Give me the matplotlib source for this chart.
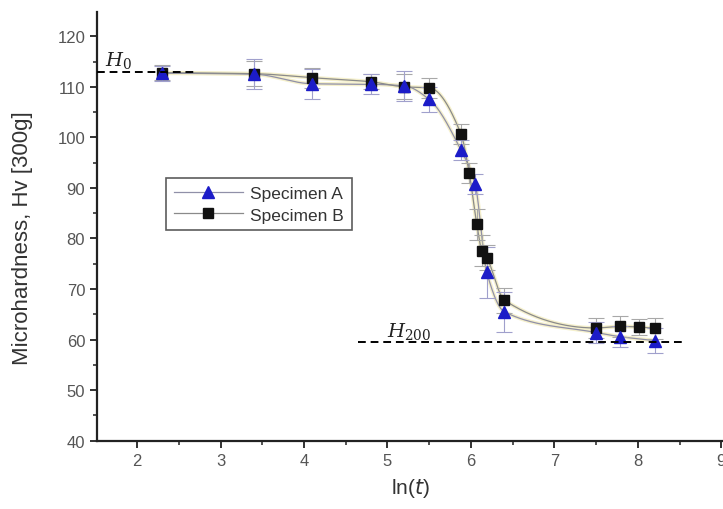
import numpy as np
import matplotlib
matplotlib.use("Agg")
import matplotlib.pyplot as plt
from matplotlib.ticker import MultipleLocator

plt.rcParams["font.family"] = ["Liberation Sans", "DejaVu Sans"]

# Specimen A
x_a = [2.3, 3.4, 4.1, 4.8, 5.2, 5.5, 5.88, 6.05, 6.19, 6.40, 7.50, 7.78, 8.20]
y_a = [112.7, 112.5, 110.6, 110.5, 110.2, 107.5, 97.5, 90.8, 73.3, 65.5, 61.4, 60.6, 59.8]
e_a = [1.5, 3.0, 3.0, 2.0, 3.0, 2.5, 2.0, 2.0, 5.0, 4.0, 2.0, 2.0, 2.5]

# Specimen B
x_b = [2.3, 3.4, 4.1, 4.8, 5.2, 5.5, 5.88, 5.98, 6.07, 6.13, 6.19, 6.40, 7.50, 7.78, 8.01, 8.20]
y_b = [112.8, 112.6, 111.8, 111.0, 110.0, 109.8, 100.7, 92.9, 82.8, 77.6, 76.2, 67.8, 62.3, 62.6, 62.5, 62.2]
e_b = [1.5, 2.5, 2.0, 1.5, 2.5, 2.0, 2.0, 2.0, 3.0, 3.0, 2.5, 2.5, 2.0, 2.0, 1.5, 2.0]

h0_level = 112.9
h200_level = 59.6


def smooth_connect(x, y, n=600):
    """Monotone cubic (PCHIP) connecting line through the measured points."""
    x = np.asarray(x, float)
    y = np.asarray(y, float)
    h = np.diff(x)
    d = np.diff(y) / h
    m = np.zeros_like(y)
    for k in range(1, len(x) - 1):
        if d[k - 1] * d[k] > 0:
            w1 = 2 * h[k] + h[k - 1]
            w2 = h[k] + 2 * h[k - 1]
            m[k] = (w1 + w2) / (w1 / d[k - 1] + w2 / d[k])
    m[0] = d[0]
    m[-1] = d[-1]
    xs = np.linspace(x[0], x[-1], n)
    idx = np.clip(np.searchsorted(x, xs) - 1, 0, len(x) - 2)
    t = (xs - x[idx]) / h[idx]
    h00 = 2 * t**3 - 3 * t**2 + 1
    h10 = t**3 - 2 * t**2 + t
    h01 = -2 * t**3 + 3 * t**2
    h11 = t**3 - t**2
    ys = (h00 * y[idx] + h10 * h[idx] * m[idx]
          + h01 * y[idx + 1] + h11 * h[idx] * m[idx + 1])
    return xs, ys


fig = plt.figure(figsize=(7.23, 5.10), dpi=100)
ax = fig.add_axes([0.1342, 0.1339, 0.8658, 0.8406])

xa_s, ya_s = smooth_connect(x_a, y_a)
xb_s, yb_s = smooth_connect(x_b, y_b)
ax.plot(xa_s, ya_s, color="#f5f0cc", lw=2.8, zorder=1)
ax.plot(xb_s, yb_s, color="#f5f0cc", lw=2.8, zorder=1)
ax.plot(xa_s, ya_s, color="#9090a8", lw=0.9, zorder=2)
ax.plot(xb_s, yb_s, color="#8a8a8a", lw=0.9, zorder=2)

ax.errorbar(x_b, y_b, yerr=e_b, fmt="none", ecolor="#a8a8a8", elinewidth=0.8,
            capsize=6, capthick=0.8, zorder=3)
ax.errorbar(x_a, y_a, yerr=e_a, fmt="none", ecolor="#a0a0cc", elinewidth=0.8,
            capsize=6, capthick=0.8, zorder=3)

ax.plot(x_b, y_b, ls="none", marker="s", ms=6.5, color="#111111", zorder=4)
ax.plot(x_a, y_a, ls="none", marker="^", ms=8.5, color="#1c1cc8", zorder=5)

# Reference levels
ax.plot([1.52, 2.68], [h0_level, h0_level], ls=(0, (4, 2.5)), color="black", lw=1.4, zorder=6)
ax.plot([4.65, 8.55], [h200_level, h200_level], ls=(0, (4, 2.5)), color="black", lw=1.4, zorder=6)
ax.text(1.62, h0_level + 0.5, r"$\mathbf{\mathit{H}}_{0}$", fontsize=14,
        ha="left", va="bottom", color="#222222", math_fontfamily="dejavuserif")
ax.text(5.0, h200_level + 0.2, r"$\mathit{H}_{200}$", fontsize=14,
        ha="left", va="bottom", color="#222222", math_fontfamily="dejavuserif")

# Legend
la, = ax.plot([], [], color="#9090a8", lw=0.9, marker="^", ms=8.5,
              markerfacecolor="#1c1cc8", markeredgecolor="#1c1cc8")
lb, = ax.plot([], [], color="#8a8a8a", lw=0.9, marker="s", ms=6.5,
              markerfacecolor="#111111", markeredgecolor="#111111")
leg = ax.legend([la, lb], ["Specimen A", "Specimen B"], loc="upper left",
                bbox_to_anchor=(0.110, 0.612), fontsize=12.5, frameon=True,
                fancybox=False, edgecolor="#333333", handlelength=4.0,
                borderpad=0.45, labelspacing=0.35, handletextpad=0.4,
                borderaxespad=0.0)
leg.get_frame().set_linewidth(1.2)
for t in leg.get_texts():
    t.set_color("#333333")

ax.set_xlim(1.52, 9.02)
ax.set_ylim(40, 124.8)
ax.xaxis.set_minor_locator(MultipleLocator(0.5))
ax.yaxis.set_minor_locator(MultipleLocator(5))
ax.set_xticks(range(2, 10))
ax.set_yticks(range(40, 121, 10))

for side in ("top", "right"):
    ax.spines[side].set_visible(False)
for side in ("left", "bottom"):
    ax.spines[side].set_linewidth(1.6)
    ax.spines[side].set_color("#222222")

ax.tick_params(which="major", direction="out", length=5, width=1.3,
               labelsize=12, labelcolor="#555555", color="#222222")
ax.tick_params(which="minor", direction="out", length=3, width=1.1, color="#222222")

ax.set_xlabel(r"ln($t$)", fontsize=15, color="#333333", labelpad=6)
ax.set_ylabel("Microhardness, Hv [300g]", fontsize=16, color="#333333")
ax.yaxis.set_label_coords(-0.102, 0.476)

fig.savefig("out.png", dpi=100)
